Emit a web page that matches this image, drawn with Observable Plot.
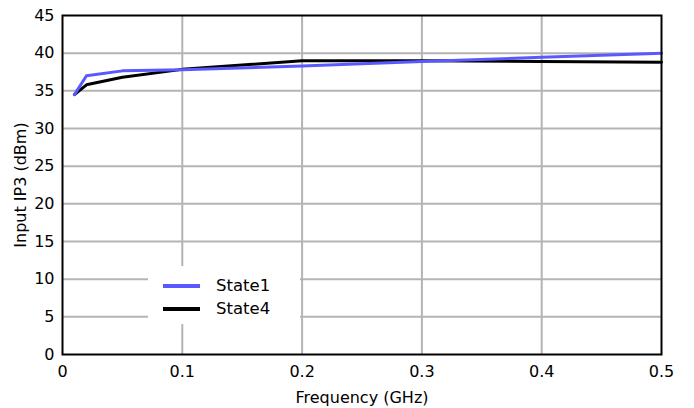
<!DOCTYPE html>
<html><head><meta charset="utf-8">
<script src="https://cdn.jsdelivr.net/npm/d3@7"></script>
<script src="https://cdn.jsdelivr.net/npm/@observablehq/plot@0.6"></script>
<style>
body{margin:0;background:#fff;}
#wrap{position:relative;width:694px;height:408px;font-family:Tahoma,"DejaVu Sans",sans-serif;}
#legend{position:absolute;left:148px;top:266px;width:152px;height:58px;background:#fff;font-size:16.5px;color:#000;}
.item{position:absolute;left:15px;display:flex;align-items:center;}
.sw{width:37px;height:4px;margin-right:16px;}
</style></head><body>
<div id="wrap"><div id="chart"></div>
<div id="legend"></div></div>
<script>
const freq = [0.01, 0.02, 0.05, 0.1, 0.2, 0.3, 0.4, 0.5];
const state1 = [34.5, 37.0, 37.65, 37.8, 38.3, 38.9, 39.45, 40.0];
const state4 = [34.5, 35.8, 36.8, 37.85, 39.0, 39.0, 38.9, 38.8];
const seriesNames = ["State1", "State4"];
const seriesColors = ["#5959ff", "#000000"];
const xTicks = [0, 0.1, 0.2, 0.3, 0.4, 0.5];
const yTicks = [0, 5, 10, 15, 20, 25, 30, 35, 40, 45];

const data = [];
[state1, state4].forEach((vals, k) => vals.forEach((v, i) => data.push({f: freq[i], v, s: seriesNames[k]})));

const fmtX = d => d === 0 ? "0" : d3.format(".1f")(d);

const plot = Plot.plot({
  width: 694, height: 408,
  marginLeft: 62, marginRight: 33, marginTop: 15, marginBottom: 54,
  style: {fontFamily: 'Tahoma, "DejaVu Sans", sans-serif', fontSize: "16px", color: "#000", background: "#fff"},
  x: {domain: [0, 0.5]},
  y: {domain: [0, 45]},
  color: {domain: seriesNames, range: seriesColors},
  marks: [
    Plot.gridX(xTicks.filter(d => d > 0 && d < 0.5), {stroke: "#b4b4b4", strokeOpacity: 1, strokeWidth: 2}),
    Plot.gridY(yTicks.filter(d => d > 0 && d < 45), {stroke: "#b4b4b4", strokeOpacity: 1, strokeWidth: 2}),
    Plot.line(data, {x: "f", y: "v", z: "s", stroke: "s", strokeWidth: 3, sort: {channel: "z", order: "descending"}}),
    Plot.frame({stroke: "#000", strokeWidth: 2}),
    Plot.axisX({ticks: xTicks, tickSize: 0, tickPadding: 11, tickFormat: fmtX, label: "Frequency (GHz)", labelAnchor: "center", labelArrow: "none", labelOffset: 48, fontSize: 16}),
    Plot.axisY({ticks: yTicks, tickSize: 0, tickPadding: 8, label: "Input IP3 (dBm)", labelAnchor: "center", labelArrow: "none", labelOffset: 48, fontSize: 16})
  ]
});
document.getElementById("chart").appendChild(plot);

const leg = document.getElementById("legend");
seriesNames.forEach((n, i) => {
  const it = document.createElement("div");
  it.className = "item";
  it.style.top = (10 + i * 23) + "px";
  it.innerHTML = `<div class="sw" style="background:${seriesColors[i]}"></div><span>${n}</span>`;
  leg.appendChild(it);
});
</script></body></html>
